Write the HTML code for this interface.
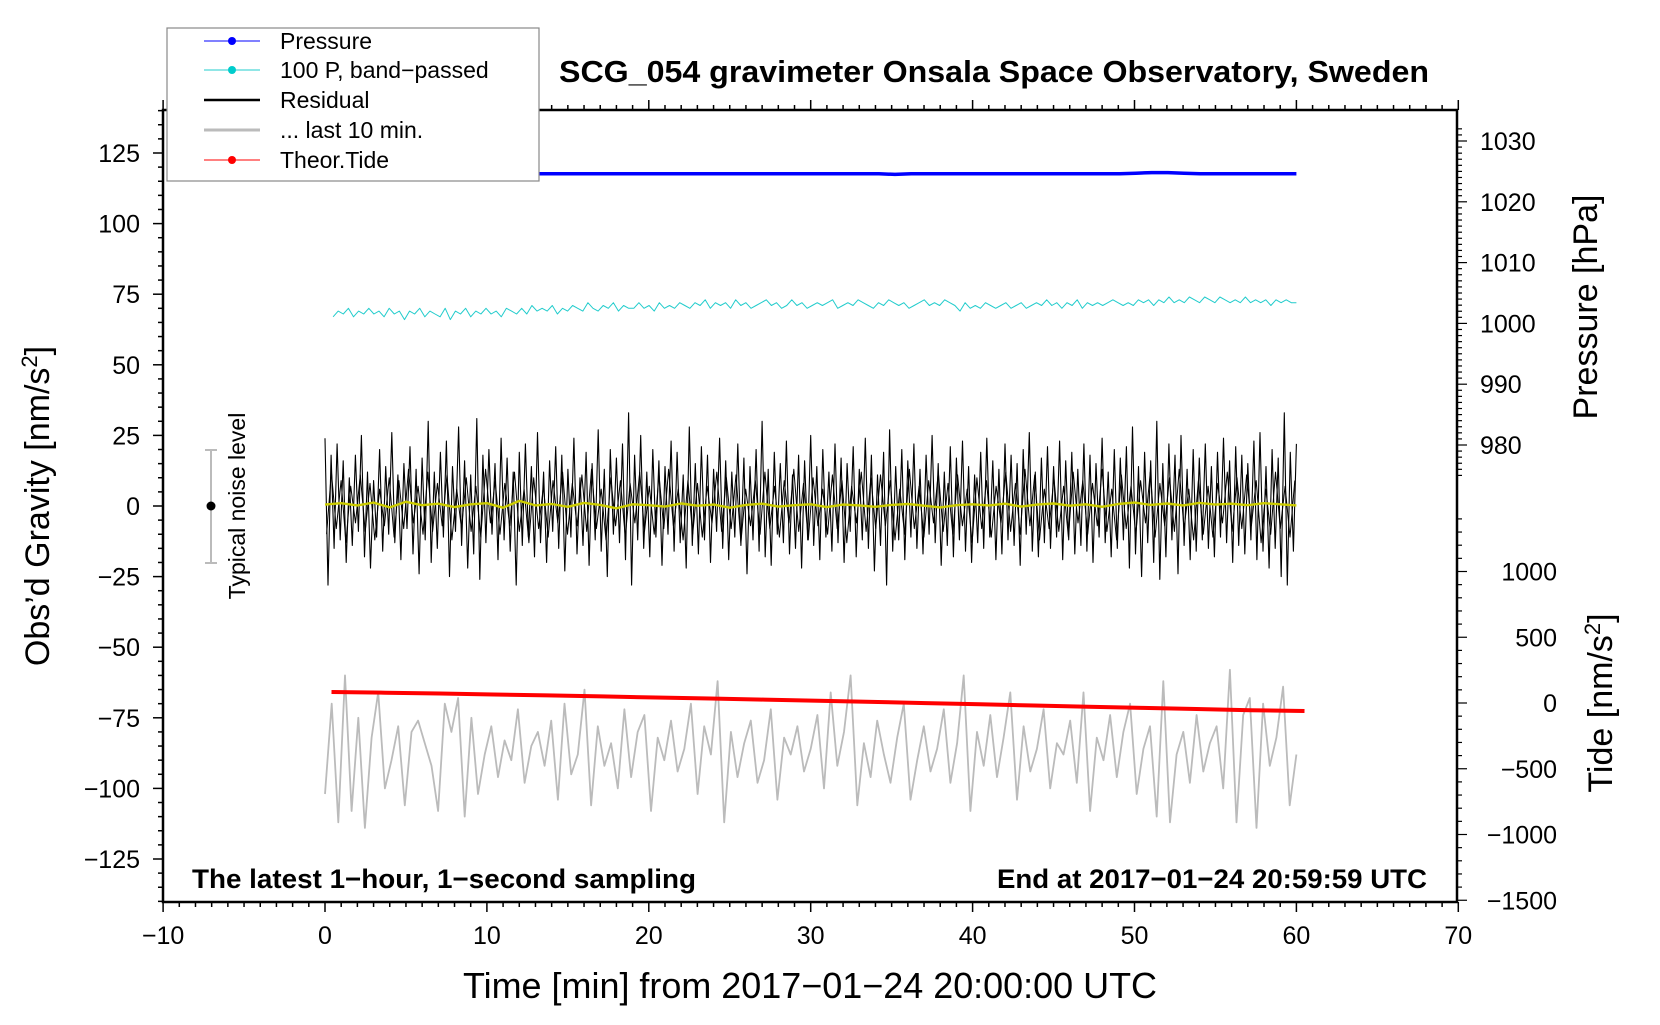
<!DOCTYPE html>
<html><head><meta charset="utf-8"><style>
body{margin:0;background:#fff;}
svg text{font-family:"Liberation Sans",sans-serif;}
</style></head><body>
<svg id="chart" width="1660" height="1020" xmlns="http://www.w3.org/2000/svg">
<rect width="1660" height="1020" fill="#fff"/>
<g id="series"></g>
<g id="axes"></g>
<text x="994" y="82" font-size="31" font-weight="bold" text-anchor="middle" textLength="870" lengthAdjust="spacingAndGlyphs">SCG_054 gravimeter Onsala Space Observatory, Sweden</text>
<text x="192" y="888" font-size="27" font-weight="bold" textLength="504" lengthAdjust="spacingAndGlyphs">The latest 1−hour, 1−second sampling</text>
<text x="997" y="888" font-size="27" font-weight="bold" textLength="430" lengthAdjust="spacingAndGlyphs">End at 2017−01−24 20:59:59 UTC</text>
<text x="810" y="998" font-size="36" text-anchor="middle" textLength="694" lengthAdjust="spacingAndGlyphs">Time [min] from 2017−01−24 20:00:00 UTC</text>
<text transform="translate(49,506) rotate(-90)" font-size="34" text-anchor="middle">Obs’d Gravity [nm/s<tspan font-size="22" dy="-12">2</tspan><tspan dy="12">]</tspan></text>
<text transform="translate(1597,307) rotate(-90)" font-size="34" text-anchor="middle">Pressure [hPa]</text>
<text transform="translate(1612,703) rotate(-90)" font-size="34" text-anchor="middle">Tide [nm/s<tspan font-size="22" dy="-12">2</tspan><tspan dy="12">]</tspan></text>
<g>
<line x1="211" y1="450" x2="211" y2="563" stroke="#bbb" stroke-width="2"/>
<line x1="205" y1="450" x2="217" y2="450" stroke="#bbb" stroke-width="2"/>
<line x1="205" y1="563" x2="217" y2="563" stroke="#bbb" stroke-width="2"/>
<circle cx="211" cy="506" r="4.5" fill="#000"/>
<text transform="translate(245,506) rotate(-90)" font-size="23" text-anchor="middle">Typical noise level</text>
</g>
<g>
<rect x="167" y="28" width="372" height="153" fill="#fff" stroke="#888" stroke-width="1.2"/>
<g><line x1="204" y1="41" x2="260" y2="41" stroke="#00f" stroke-width="1"/><circle cx="232" cy="41" r="4" fill="#00f"/><text x="280" y="49" font-size="23">Pressure</text></g>
<g><line x1="204" y1="70" x2="260" y2="70" stroke="#2cc" stroke-width="1"/><circle cx="232" cy="70" r="4" fill="#0cc"/><text x="280" y="78" font-size="23">100 P, band−passed</text></g>
<g><line x1="204" y1="100" x2="260" y2="100" stroke="#000" stroke-width="2.5"/><text x="280" y="108" font-size="23">Residual</text></g>
<g><line x1="204" y1="130" x2="260" y2="130" stroke="#bbb" stroke-width="3"/><text x="280" y="138" font-size="23">... last 10 min.</text></g>
<g><line x1="204" y1="160" x2="260" y2="160" stroke="#f00" stroke-width="1"/><circle cx="232" cy="160" r="4" fill="#f00"/><text x="280" y="168" font-size="23">Theor.Tide</text></g>
</g>
</svg>
<script>
const xTicks=[-10,0,10,20,30,40,50,60,70];
const yTicks=[125,100,75,50,25,0,-25,-50,-75,-100,-125];
const pTicks=[1030,1020,1010,1000,990,980];
const tideTicks=[1000,500,0,-500,-1000,-1500];
const pressureVals=[1024.6,1024.6,1024.6,1024.6,1024.6,1024.6,1024.6,1024.6,1024.6,1024.6,1024.6,1024.6,1024.6,1024.6,1024.6,1024.6,1024.6,1024.6,1024.6,1024.6,1024.6,1024.6,1024.6,1024.6,1024.6,1024.6,1024.6,1024.6,1024.6,1024.6,1024.6,1024.6,1024.6,1024.6,1024.6,1024.5,1024.6,1024.6,1024.6,1024.6,1024.6,1024.6,1024.6,1024.6,1024.6,1024.6,1024.6,1024.6,1024.6,1024.6,1024.7,1024.8,1024.8,1024.7,1024.6,1024.6,1024.6,1024.6,1024.6,1024.6,1024.6];
const bandPassed=[67,69,68,70,67,69,68,70,68,69,67,70,68,69,66,69,68,70,67,69,68,67,70,66,69,68,70,67,69,68,70,68,69,67,70,69,68,70,68,71,69,70,69,71,68,70,69,71,70,69,72,70,69,71,70,72,69,71,70,70,72,70,71,69,72,70,71,70,72,71,70,72,71,73,70,72,71,72,70,73,71,72,70,71,72,73,71,72,70,71,73,71,72,70,71,72,71,72,73,70,71,72,71,73,72,71,70,72,71,73,72,71,72,70,71,72,73,71,72,71,73,72,71,69,72,70,71,70,72,71,70,71,72,70,71,72,70,71,72,71,73,71,72,70,72,71,73,70,72,71,72,71,72,73,72,71,72,71,73,72,73,71,73,72,74,72,73,72,74,73,72,74,73,72,74,73,72,73,72,74,72,73,72,73,71,73,72,73,72,72];
const residual=[24,-28,18,-15,22,-12,16,-20,10,-14,18,-9,25,-18,12,-22,9,-11,20,-16,14,-10,26,-13,11,-19,15,-8,21,-17,13,-24,17,-12,30,-20,12,-15,19,-11,23,-25,14,-9,28,-14,16,-22,11,-17,31,-26,18,-13,20,-10,15,-19,24,-12,17,-16,12,-28,19,-14,22,-11,14,-18,26,-13,12,-20,16,-9,21,-15,18,-23,13,-11,24,-17,10,-14,19,-21,15,-12,27,-16,13,-25,20,-10,17,-13,22,-19,33,-28,18,-12,25,-15,12,-18,20,-11,16,-21,14,-10,23,-16,19,-13,11,-22,28,-14,15,-17,21,-12,18,-20,13,-9,24,-15,16,-19,12,-11,22,-14,17,-24,14,-12,20,-16,30,-18,13,-21,19,-10,15,-13,23,-17,11,-15,18,-22,16,-12,25,-14,14,-19,20,-11,12,-16,22,-13,17,-20,15,-9,21,-18,13,-12,24,-15,18,-23,11,-14,19,-28,27,-16,14,-12,20,-19,16,-11,22,-15,13,-17,18,-10,25,-13,15,-21,12,-14,21,-18,17,-12,23,-16,14,-20,11,-13,19,-15,24,-11,16,-19,13,-17,22,-12,18,-14,15,-21,20,-10,26,-16,12,-18,17,-13,21,-15,14,-11,23,-19,16,-12,19,-17,13,-14,22,-16,18,-20,15,-11,24,-13,12,-18,20,-15,17,-12,21,-22,28,-17,14,-25,19,-13,16,-20,30,-26,15,-18,22,-12,18,-24,25,-14,13,-19,20,-16,17,-12,22,-15,14,-18,19,-11,24,-13,16,-20,21,-14,18,-17,15,-12,23,-19,26,-16,14,-22,20,-15,17,-25,33,-28,19,-16,22];
const residualB=[-10,12,-8,9,-13,7,-6,11,-9,8,-12,6,-7,10,-11,9,-8,13,-6,7,-10,12,-9,8,-7,11,-12,6,-8,10,-9,7,-11,13,-6,9,-10,8,-7,12,-9,6,-13,10,-8,7,-11,9,-6,12,-10,8,-7,11,-9,13,-8,6,-12,10,-7,9,-11,8,-6,12,-9,7,-10,11,-8,13,-7,6,-12,9,-10,8,-11,7,-6,12,-9,10,-8,11,-13,6,-7,9,-10,12,-8,7,-11,9,-6,13,-9,8,-12,10,-7,6,-10,11,-8,9,-13,7,-6,12,-9,10,-8,11,-7,9,-12,6,-10,13,-8,7,-11,9,-6,12,-9,8,-10,11,-7,6,-13,10,-8,9,-11,7,-6,12,-9,8,-10,13,-7,11,-12,6,-8,10,-9,7,-11,12,-6,9,-10,8,-7,13,-9,6,-12,11,-8,7,-10,9,-6,12,-11,8,-7,10,-9,13,-8,6,-12,9,-10,7,-11,8,-6,12,-9,10,-8,11,-7,9,-13,6,-10,12,-8,7,-11,9];
const smoothed=[0.5,1,0.2,1.2,-0.5,1.5,0.3,0.8,-0.4,0.6,1,-0.6,1.8,0.2,0.7,-0.3,1.1,0.4,-0.8,0.6,0.3,-0.2,0.9,0.1,0.5,-0.6,0.4,0.8,-0.2,0.3,0.6,-0.4,0.5,0.2,-0.3,0.4,0.7,0.1,-0.5,0.3,0.6,0.2,0.8,-0.2,0.5,0.9,0.1,0.6,-0.3,0.7,1.2,0.4,0.9,0.2,1.1,0.5,0.8,0.3,1,0.6,0.2];
const lastTen=[-102,-70,-112,-60,-108,-75,-114,-82,-66,-100,-90,-78,-106,-80,-76,-84,-92,-108,-70,-80,-68,-110,-75,-102,-88,-78,-96,-83,-90,-72,-98,-85,-80,-92,-76,-104,-70,-95,-88,-65,-106,-78,-92,-84,-100,-72,-96,-80,-74,-108,-82,-90,-76,-94,-86,-70,-102,-78,-88,-62,-112,-80,-96,-84,-76,-98,-90,-72,-104,-82,-88,-78,-94,-86,-74,-100,-66,-92,-80,-60,-106,-84,-96,-76,-88,-98,-82,-70,-104,-90,-78,-94,-86,-72,-98,-84,-60,-108,-80,-92,-74,-96,-82,-66,-104,-78,-94,-86,-72,-100,-84,-88,-76,-98,-66,-108,-82,-90,-74,-96,-80,-70,-102,-86,-78,-110,-62,-112,-88,-80,-98,-74,-94,-84,-78,-100,-58,-112,-74,-68,-114,-70,-92,-82,-64,-106,-88];
const tideVals=[84,78,72,65,58,50,42,34,26,17,8,-1,-10,-19,-28,-37,-46,-55,-61];
const NS='http://www.w3.org/2000/svg';
const X=v=>325+(v)*16.19;
const Y=v=>506-v*2.824;
const YP=v=>141+(1030-v)*6.08;
const YT=v=>703-v*0.1315;
const series=document.getElementById('series');
const axes=document.getElementById('axes');
function mk(tag,attrs,parent){const e=document.createElementNS(NS,tag);for(const k in attrs)e.setAttribute(k,attrs[k]);parent.appendChild(e);return e;}
function poly(vals,x0,x1,yf,stroke,w,name){
  const n=vals.length;let d='';
  vals.forEach((v,i)=>{d+=(i?'L':'M')+X(x0+(x1-x0)*i/(n-1)).toFixed(1)+' '+yf(v).toFixed(1);});
  const p=mk('path',{d:d,fill:'none',stroke:stroke,'stroke-width':w,'stroke-linejoin':'round'},series);
  
  
}
poly(lastTen,0,60,Y,'#bbb',1.8,'last-10-min-line');
poly(tideVals,0.4,60.5,YT,'#f00',4,'theor-tide-line');
poly(bandPassed,0.5,60,Y,'#2cc',1,'band-passed-pressure-line');
poly(pressureVals,0.5,60,YP,'#00f',3.5,'pressure-line');
poly(residualB,0.1,59.9,Y,'#000',1,'residual-line-dense');
poly(residual,0,60,Y,'#000',1.1,'residual-line');
poly(smoothed,0,60,Y,'#cc0',2.4,'residual-smoothed-line');
const fr=mk('rect',{x:163,y:110,width:1294,height:792,fill:'none',stroke:'#000','stroke-width':2.5},axes);


for(let m=-10;m<=70;m++){
  const major=m%10===0,l=major?10:5;
  mk('line',{x1:X(m),x2:X(m),y1:902,y2:902+l,stroke:'#000','stroke-width':1.5},axes);
  mk('line',{x1:X(m),x2:X(m),y1:110,y2:110-l,stroke:'#000','stroke-width':1.5},axes);
}
xTicks.forEach(v=>{const t=mk('text',{x:X(v),y:944,'font-size':25,'text-anchor':'middle'},axes);t.textContent=String(v).replace('-','−');

});
for(let v=-140;v<=140;v+=5){const major=v%25===0,l=major?10:5;mk('line',{x1:163-l,x2:163,y1:Y(v),y2:Y(v),stroke:'#000','stroke-width':1.5},axes);}
yTicks.forEach(v=>{const t=mk('text',{x:140,y:Y(v)+9,'font-size':25,'text-anchor':'end'},axes);t.textContent=String(v).replace('-','−');

});
for(let v=1032;v>=975;v--){const major=v%10===0,l=major?10:5;if(YP(v)<110)continue;mk('line',{x1:1457,x2:1457+l,y1:YP(v),y2:YP(v),stroke:'#000','stroke-width':1.2},axes);}
pTicks.forEach(v=>{const t=mk('text',{x:1480,y:YP(v)+9,'font-size':25},axes);t.textContent=v;

});
for(let v=1400;v>=-1500;v-=100){const major=v%500===0,l=major?10:5;mk('line',{x1:1457,x2:1457+l,y1:YT(v),y2:YT(v),stroke:'#000','stroke-width':1.2},axes);}
tideTicks.forEach(v=>{const t=mk('text',{x:1557,y:YT(v)+9,'font-size':25,'text-anchor':'end'},axes);t.textContent=String(v).replace('-','−');

});
</script>
</body></html>
